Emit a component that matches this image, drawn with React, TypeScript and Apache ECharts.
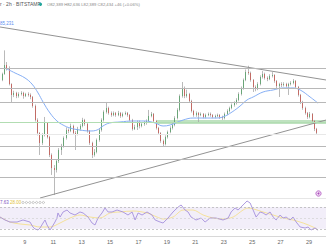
import React, { useEffect, useRef } from "react";
import * as echarts from "echarts";

// ---- time axis (days of month) ----
const X_MIN = 7.25;
const X_MAX = 30.2;
const START_DAY = 7.25;
const CANDLE_STEP = 1 / 6; // 4h aggregated candles
const dayTicks = [9, 11, 13, 15, 17, 19, 21, 23, 25, 27, 29];

// ---- price candles ----
const firstOpen = 86800;
const closes = [
  87410, 87970, 88820, 88540, 87030, 86000, 86190, 85900, 86090, 86190,
  85900, 86090, 86000, 85810, 84960, 83640, 82420, 81480, 82230, 83360,
  82040, 80350, 79120, 78940, 79780, 80820, 81200, 81950, 82700, 82610,
  83080, 82420, 82330, 82800, 83080, 83640, 83270, 82610, 81480, 80350,
  80630, 81760, 82700, 83640, 84400, 84770, 84300, 84110, 84300, 84110,
  84300, 84020, 84210, 84300, 84110, 83640, 82800, 82980, 83460, 83080,
  83270, 83360, 83550, 84020, 84210, 83550, 82890, 82420, 81670, 81380,
  82040, 82510, 82890, 83170, 83830, 84590, 85900, 86660, 85900, 86090,
  85430, 84490, 84110, 84300, 84110, 84210, 83930, 84110, 84210, 84110,
  83930, 84020, 84110, 83930, 83830, 84210, 84490, 84770, 85060, 85240,
  85530, 86090, 86660, 87410, 88160, 88070, 87410, 86750, 86560, 87030,
  87690, 87970, 87600, 87500, 87790, 87880, 87320, 86840, 87030, 86940,
  87030, 86840, 87030, 87130, 87320, 86750, 86000, 85340, 84770, 84300,
  83930, 84210, 83550, 82800, 82434,
];
const highs = [
  87600, 88100, 90200, 89100, 88700, 87100, 86400, 86300, 86250, 86350,
  86300, 86200, 86250, 86150, 85900, 85100, 83800, 82500, 82400, 83930,
  83450, 82150, 80500, 79400, 79950, 81000, 81400, 82100, 82950, 82850,
  83300, 83200, 82600, 83000, 83250, 83850, 83750, 83400, 82700, 81600,
  80900, 81900, 82850, 83800, 84550, 85340, 84900, 84450, 84450, 84400,
  84500, 84400, 84350, 84450, 84400, 84200, 83750, 83200, 83600, 83600,
  83450, 83550, 83700, 84590, 84400, 84300, 83650, 83000, 82500, 81800,
  82200, 82650, 83050, 83350, 84000, 84750, 86050, 87220, 86800, 86500,
  86200, 85550, 84600, 84450, 84400, 84350, 84300, 84250, 84350, 84350,
  84200, 84150, 84250, 84200, 84050, 84350, 84650, 84900, 85200, 85400,
  85700, 86250, 86800, 87550, 88400, 88750, 88200, 87500, 86900, 87200,
  87850, 88250, 88100, 87750, 87950, 88150, 87950, 87400, 87150, 87200,
  87200, 87150, 87150, 87300, 87500, 87400, 86850, 86100, 85450, 84900,
  84400, 84400, 84300, 83650, 82900,
];
const lows = [
  86650, 87300, 87900, 88300, 86900, 85340, 85800, 85700, 85750, 85950,
  85650, 85800, 85850, 85600, 84800, 83500, 82200, 80350, 81300, 82100,
  81900, 80150, 78470, 76580, 78700, 79600, 80350, 81050, 81800, 82400,
  82500, 82250, 80820, 82200, 82650, 82950, 83100, 82450, 81300, 80060,
  80200, 80500, 81600, 82550, 83500, 84250, 84150, 83950, 84000, 83950,
  84000, 83850, 83900, 84100, 83950, 83500, 82650, 82700, 82700, 82850,
  82950, 83100, 83200, 83450, 83900, 83400, 82750, 82250, 81500, 81100,
  81250, 81900, 82400, 82750, 83050, 83700, 84450, 85750, 85700, 85750,
  85250, 84350, 83950, 83950, 83360, 84000, 83800, 83800, 84000, 83950,
  83800, 83800, 83900, 83750, 83650, 83700, 84100, 84350, 84650, 84900,
  85100, 85400, 85950, 86500, 87300, 87900, 87250, 86280, 86350, 86450,
  86900, 87550, 87450, 87300, 87400, 87650, 87150, 86650, 85810, 86750,
  86800, 86700, 86000, 86900, 87000, 86600, 85850, 85150, 84600, 84150,
  83750, 83800, 83400, 82600, 82300,
];

// ---- moving average (blue) ----
const maDays = [
  7.6, 8.31, 9.01, 9.5, 9.93, 10.28, 10.77, 11.26, 11.69, 12.18, 12.88, 13.59,
  14.08, 14.5, 14.96, 15.7, 16.62, 17.46, 18.17, 18.73, 19.22, 20.14, 20.84,
  21.69, 22.39, 22.95, 23.59, 24.15, 24.64, 25.07, 25.77, 26.48, 27.18, 27.88,
  28.38, 29.08, 29.64,
];
const maValues = [
  88540, 88070, 87600, 87030, 86190, 85340, 84300, 83550, 83170, 82890, 82700,
  82610, 82700, 83080, 83360, 83460, 83550, 83550, 83360, 83080, 83170, 83640,
  83830, 83830, 83830, 83930, 84400, 84960, 85530, 85810, 86280, 86470, 86660,
  86660, 86470, 85810, 85231,
];

// ---- drawn levels / trend lines ----
const levelPrices = [88540, 86660, 85340, 81200, 79970, 78280];
const faintLevel = 82330;
const greenLevel = 83460;
const greenZone = { fromDay: 18.31, low: 83270, high: 83640 };
const upperTrend = [
  [7.25, 92400],
  [30.2, 87410],
];
const lowerTrend = [
  [10.07, 76300],
  [30.2, 83640],
];

// ---- RSI pane ----
const rsiDays = [
  7.25, 7.6, 7.95, 8.45, 8.87, 9.36, 9.57, 9.71, 9.93, 10.07, 10.28, 10.42,
  10.56, 10.77, 10.91, 11.12, 11.26, 11.33, 11.48, 11.69, 11.97, 12.18, 12.53,
  12.88, 13.1, 13.45, 13.73, 13.94, 14.15, 14.43, 14.64, 14.86, 15.14, 15.49,
  15.91, 16.26, 16.55, 16.76, 16.97, 17.25, 17.6, 17.95, 18.17, 18.52, 18.73,
  19.08, 19.43, 19.79, 20.0, 20.28, 20.49, 20.7, 21.05, 21.41, 21.69, 22.04,
  22.46, 22.95, 23.31, 23.52, 23.8, 24.01, 24.22, 24.5, 24.64, 24.86, 25.07,
  25.28, 25.56, 25.77, 25.98, 26.26, 26.48, 26.69, 26.97, 27.18, 27.39, 27.67,
  27.88, 28.1, 28.38, 28.73, 28.94, 29.15, 29.43, 29.64,
];
const rsiValues = [
  51.6, 46.2, 42.5, 42.5, 46.2, 42.5, 33.4, 29.8, 27.9, 31.6, 40.7, 46.2, 37.1,
  27.9, 33.4, 42.5, 49.8, 59.0, 51.6, 60.8, 64.4, 59.0, 55.3, 60.8, 59.0, 51.6,
  40.7, 37.1, 49.8, 59.0, 68.1, 60.8, 60.8, 64.4, 60.8, 55.3, 60.8, 46.2, 59.0,
  55.3, 60.8, 55.3, 46.2, 42.5, 40.7, 49.8, 60.8, 69.9, 73.6, 64.4, 60.8, 51.6,
  46.2, 49.8, 42.5, 49.8, 49.8, 46.2, 49.8, 60.8, 68.1, 64.4, 69.9, 77.2, 80.9,
  77.2, 64.4, 51.6, 60.8, 59.0, 55.3, 60.8, 51.6, 46.2, 55.3, 49.8, 51.6, 46.2,
  51.6, 42.5, 33.4, 31.6, 33.4, 27.9, 31.6, 27.6,
];
const rsiMaDays = [
  7.25, 7.95, 8.66, 9.36, 10.07, 10.77, 11.48, 12.18, 12.88, 13.59, 14.29, 15.0,
  15.7, 16.62, 17.6, 18.31, 18.73, 19.43, 20.14, 20.84, 21.55, 22.25, 22.95,
  23.66, 24.36, 24.71, 25.07, 25.77, 26.48, 27.18, 27.88, 28.59, 29.29, 29.64,
];
const rsiMaValues = [
  51.6, 42.5, 38.9, 37.1, 33.4, 33.4, 40.7, 49.8, 55.3, 51.6, 49.8, 59.0, 60.8,
  62.6, 59.0, 51.6, 48.0, 51.6, 64.4, 64.4, 55.3, 49.8, 48.0, 51.6, 64.4, 68.0,
  66.5, 60.8, 55.3, 49.8, 46.2, 40.7, 33.4, 28.0,
];
const rsiLevels = { upper: 70, middle: 50, lower: 30 };

// ---- texts ----
const headerTitle = "r · 2h · BITSTAMP";
const headerOhlc = "O82,389 H82,636 L82,389 C82,434 +46 (+0.06%)";
const maLabel = "85,231";
const rsiLabel = "7.63";
const rsiMaLabel = "28.00";

const FONT = "'Liberation Sans', Arial, sans-serif";
const UP = "#55a067";
const DOWN = "#c4574f";
const WICK = "#a8a8a8";

export default function App() {
  const ref = useRef<HTMLDivElement>(null);

  useEffect(() => {
    if (!ref.current) return;
    const chart = echarts.init(ref.current, null, { renderer: "svg" });

    const opens = closes.map((c, i) => (i === 0 ? firstOpen : closes[i - 1]));
    const times = closes.map((_, i) => START_DAY + i * CANDLE_STEP);
    const wickData = closes.map((c, i) => [times[i], opens[i], c, lows[i], highs[i]]);
    const bodyData = closes.map((c, i) => [
      times[i],
      opens[i],
      c,
      Math.min(opens[i], c),
      Math.max(opens[i], c),
    ]);

    const dots = [0, 1, 2, 3, 4, 5, 6].map((k) => ({
      type: "circle",
      shape: { cx: 23 + k * 3.4, cy: 202.5, r: 1.1 },
      style: { fill: "none", stroke: "#a5a5a5", lineWidth: 0.6 },
      silent: true,
    }));

    chart.setOption({
      animation: false,
      backgroundColor: "#ffffff",
      textStyle: { fontFamily: FONT },
      grid: [
        { left: 0, right: 0, top: 10, height: 188 },
        { left: 0, right: 0, top: 199, height: 37 },
      ],
      xAxis: [
        {
          type: "value",
          gridIndex: 0,
          min: X_MIN,
          max: X_MAX,
          axisLine: { show: true, onZero: false, lineStyle: { color: "#e6e6e6", width: 1 } },
          axisTick: { show: false },
          axisLabel: { show: false },
          splitLine: { show: false },
        },
        {
          type: "value",
          gridIndex: 1,
          min: X_MIN,
          max: X_MAX,
          axisLine: { show: true, onZero: false, lineStyle: { color: "#d8d8d8", width: 1 } },
          axisTick: { show: false },
          splitLine: { show: false },
          axisLabel: {
            customValues: dayTicks,
            fontSize: 5.5,
            color: "#666",
            margin: 3,
            fontFamily: FONT,
          },
        },
      ],
      yAxis: [
        { type: "value", gridIndex: 0, min: 76300, max: 94000, show: false, splitLine: { show: false } },
        { type: "value", gridIndex: 1, min: 17, max: 84.5, show: false, splitLine: { show: false } },
      ],
      series: [
        {
          type: "line",
          xAxisIndex: 0,
          yAxisIndex: 0,
          data: [],
          silent: true,
          markLine: {
            symbol: "none",
            silent: true,
            label: { show: false },
            lineStyle: { color: "#b8b8b8", width: 1, type: "solid" },
            data: [
              ...levelPrices.map((v) => ({ yAxis: v })),
              { yAxis: faintLevel, lineStyle: { color: "#e8e8e8", width: 1, type: "solid" } },
              { yAxis: greenLevel, lineStyle: { color: "#b2ddb2", width: 1, type: "solid" } },
            ],
          },
          markArea: {
            silent: true,
            itemStyle: { color: "rgba(102, 187, 106, 0.42)" },
            data: [[{ xAxis: greenZone.fromDay, yAxis: greenZone.low }, { xAxis: X_MAX, yAxis: greenZone.high }]],
          },
        },
        {
          type: "line",
          xAxisIndex: 0,
          yAxisIndex: 0,
          data: upperTrend,
          symbol: "none",
          silent: true,
          lineStyle: { color: "#939393", width: 1 },
        },
        {
          type: "line",
          xAxisIndex: 0,
          yAxisIndex: 0,
          data: lowerTrend,
          symbol: "none",
          silent: true,
          lineStyle: { color: "#939393", width: 1 },
        },
        {
          type: "line",
          xAxisIndex: 0,
          yAxisIndex: 0,
          data: maDays.map((d, i) => [d, maValues[i]]),
          symbol: "none",
          smooth: 0.4,
          silent: true,
          lineStyle: { color: "#86aff5", width: 1 },
        },
        {
          type: "candlestick",
          xAxisIndex: 0,
          yAxisIndex: 0,
          data: wickData,
          encode: { x: 0, y: [1, 2, 3, 4] },
          barWidth: 1.2,
          silent: true,
          itemStyle: {
            color: "rgba(0,0,0,0)",
            color0: "rgba(0,0,0,0)",
            borderColor: WICK,
            borderColor0: WICK,
            borderWidth: 0.8,
          },
        },
        {
          type: "candlestick",
          xAxisIndex: 0,
          yAxisIndex: 0,
          data: bodyData,
          encode: { x: 0, y: [1, 2, 3, 4] },
          barWidth: 1.2,
          silent: true,
          itemStyle: {
            color: UP,
            color0: DOWN,
            borderColor: UP,
            borderColor0: DOWN,
            borderWidth: 0.8,
          },
        },
        {
          type: "line",
          xAxisIndex: 1,
          yAxisIndex: 1,
          data: rsiMaDays.map((d, i) => [d, rsiMaValues[i]]),
          symbol: "none",
          smooth: 0.3,
          silent: true,
          lineStyle: { color: "#f5e08e", width: 0.9 },
          markArea: {
            silent: true,
            itemStyle: { color: "rgba(126, 87, 194, 0.10)" },
            data: [[{ yAxis: rsiLevels.lower }, { yAxis: rsiLevels.upper }]],
          },
          markLine: {
            symbol: "none",
            silent: true,
            label: { show: false },
            lineStyle: { color: "#b0b0b0", width: 0.7, type: [2, 2] },
            data: [
              { yAxis: rsiLevels.upper },
              { yAxis: rsiLevels.middle, lineStyle: { color: "#d2d2d2", width: 0.7, type: [2, 2] } },
              { yAxis: rsiLevels.lower },
            ],
          },
        },
        {
          type: "line",
          xAxisIndex: 1,
          yAxisIndex: 1,
          data: rsiDays.map((d, i) => [d, rsiValues[i]]),
          symbol: "none",
          silent: true,
          lineStyle: { color: "#a590dc", width: 0.9 },
        },
      ],
      graphic: [
        {
          type: "text",
          x: 0,
          y: 1.5,
          silent: true,
          style: { text: headerTitle, fontSize: 5, fill: "#555", fontFamily: FONT },
        },
        {
          type: "circle",
          shape: { cx: 40.5, cy: 4.3, r: 1.6 },
          style: { fill: "#26a69a" },
          silent: true,
        },
        {
          type: "text",
          x: 47,
          y: 2,
          silent: true,
          style: { text: headerOhlc, fontSize: 4.2, fill: "#888", fontFamily: FONT },
        },
        {
          type: "text",
          x: 0,
          y: 20.5,
          silent: true,
          style: { text: maLabel, fontSize: 4.5, fill: "#5b8def", fontFamily: FONT },
        },
        {
          type: "text",
          x: 0,
          y: 200,
          silent: true,
          style: { text: rsiLabel, fontSize: 4.5, fill: "#7e57c2", fontFamily: FONT },
        },
        {
          type: "text",
          x: 10,
          y: 200,
          silent: true,
          style: { text: rsiMaLabel, fontSize: 4.5, fill: "#e3c23a", fontFamily: FONT },
        },
        ...dots,
        {
          type: "circle",
          shape: { cx: 318.5, cy: 193.5, r: 2.6 },
          style: { fill: "#f3e5f5", stroke: "#ab47bc", lineWidth: 0.8 },
          silent: true,
        },
        {
          type: "circle",
          shape: { cx: 318.5, cy: 193.5, r: 1 },
          style: { fill: "#ab47bc" },
          silent: true,
        },
      ],
    });

    return () => chart.dispose();
  }, []);

  return (
    <div
      ref={ref}
      style={{ position: "fixed", left: 0, top: 0, width: 326, height: 245 }}
    />
  );
}
